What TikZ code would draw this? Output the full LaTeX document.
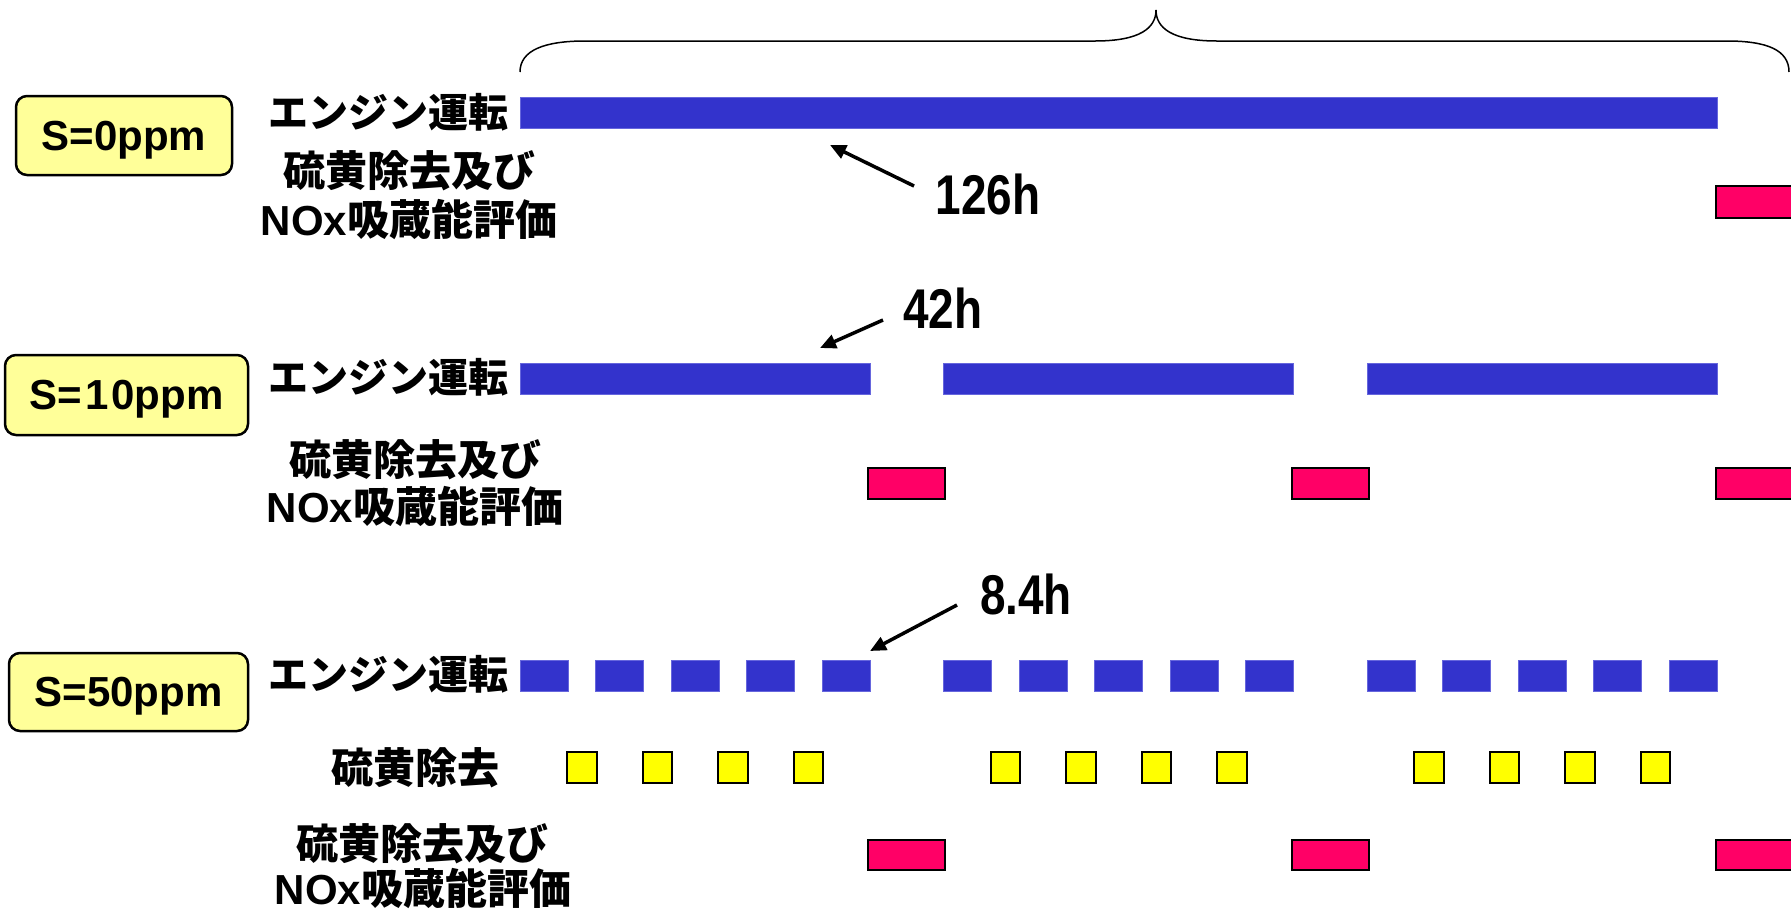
\documentclass[tikz,border=0pt]{standalone}
\usepackage{fontspec}
\usepackage{graphicx}
\setmainfont{Liberation Sans}
\newfontfamily\jp{Noto Sans CJK JP}
\usetikzlibrary{arrows.meta}
\definecolor{barblue}{HTML}{3333CC}
\definecolor{baredge}{HTML}{6666DD}
\definecolor{pinkc}{HTML}{FF0066}
\definecolor{boxy}{HTML}{FFFF99}
\definecolor{sqy}{HTML}{FFFF00}
\newcommand{\jtxt}[1]{{\jp #1}}
\begin{document}
\begin{tikzpicture}[x=1pt,y=-1pt,
  jlab/.style={font=\fontsize{40}{48}\selectfont\bfseries, inner sep=0pt},
  jlabb/.style={font=\fontsize{42}{50}\selectfont\bfseries, inner sep=0pt},
  ppm/.style={draw=black, line width=2.5pt, rounded corners=11pt, fill=boxy,
    font=\fontsize{42}{50}\selectfont\bfseries, inner sep=0pt, text depth=0pt},
  hlab/.style={font=\fontsize{56}{64}\selectfont\bfseries, inner sep=0pt},
  run/.style={fill=barblue, draw=baredge, line width=1pt},
  evalbox/.style={fill=pinkc, draw=black, line width=2.5pt},
  desbox/.style={fill=sqy, draw=black, line width=2pt},
  ptr/.style={line width=3.5pt, -{Triangle[length=16pt,width=14pt]}},
  brace/.style={line width=1.5pt}]
\useasboundingbox (0,0) rectangle (1791,914);

% ---------- brace ----------
\draw[brace] (520,72) .. controls (520,50) and (545,41) .. (585,41)
  -- (1095,41) .. controls (1140,41) and (1156,28) .. (1156,10)
  .. controls (1156,28) and (1172,41) .. (1217,41)
  -- (1727,41) .. controls (1767,41) and (1789,50) .. (1789,72);

% ---------- row 1 : S=0ppm ----------
\node[ppm, minimum width=216pt, minimum height=79pt] (b0) at (124,135.5) {S=0ppm};
\node[jlab] (e0) at (388,112) {\jtxt{エンジン運転}};
\node[jlabb] (d0a) at (409,171) {\jtxt{硫黄除去及び}};
\node[jlabb] (d0b) at (409,220) {NOx\jtxt{吸蔵能評価}};
\fill[run] (520,97) rectangle (1717,128);
\draw[evalbox] (1716,186) rectangle (1800,218);
\node[hlab] (h0) at (988,194) {\scalebox{0.82}[1]{126h}};
\coordinate (a0s) at (914,186);
\coordinate (a0e) at (830,145);
\draw[ptr] (a0s) -- (a0e);

% ---------- row 2 : S=10ppm ----------
\node[ppm, minimum width=243pt, minimum height=80pt] (b1) at (126.5,395) {S=\hspace{3pt}1\hspace{3pt}0ppm};
\node[jlab] (e1) at (388,377) {\jtxt{エンジン運転}};
\node[jlabb] (d1a) at (415,460) {\jtxt{硫黄除去及び}};
\node[jlabb] (d1b) at (415,507) {NOx\jtxt{吸蔵能評価}};
\foreach \s in {520,943.5,1367}
  \fill[run] (\s,363) rectangle ({\s+350},394);
\foreach \s in {868,1292}
  \draw[evalbox] (\s,468) rectangle ({\s+77},499);
\draw[evalbox] (1716,468) rectangle (1800,499);
\node[hlab] (h1) at (943,308) {\scalebox{0.82}[1]{42h}};
\coordinate (a1s) at (883,320);
\coordinate (a1e) at (820,348);
\draw[ptr] (a1s) -- (a1e);

% ---------- row 3 : S=50ppm ----------
\node[ppm, minimum width=239pt, minimum height=78pt] (b2) at (128.5,692) {S=50ppm};
\node[jlab] (e2) at (388,674) {\jtxt{エンジン運転}};
\node[jlabb] (s2) at (415,768) {\jtxt{硫黄除去}};
\node[jlabb] (d2a) at (422,844) {\jtxt{硫黄除去及び}};
\node[jlabb] (d2b) at (423,889) {NOx\jtxt{吸蔵能評価}};
\foreach \s in {520,943.5,1367} {
  \foreach \k in {0,...,4}
    \fill[run] ({\s+75.6*\k},660) rectangle ({\s+75.6*\k+48},691);
  \foreach \k in {0,...,3}
    \draw[desbox] ({\s+75.6*\k+47},752) rectangle ({\s+75.6*\k+76.6},783);
}
\foreach \s in {868,1292}
  \draw[evalbox] (\s,840) rectangle ({\s+77},870);
\draw[evalbox] (1716,840) rectangle (1800,870);
\node[hlab] (h2) at (1026,594) {\scalebox{0.82}[1]{8.4h}};
\coordinate (a2s) at (957,605);
\coordinate (a2e) at (870,651);
\draw[ptr] (a2s) -- (a2e);
\end{tikzpicture}
\end{document}
